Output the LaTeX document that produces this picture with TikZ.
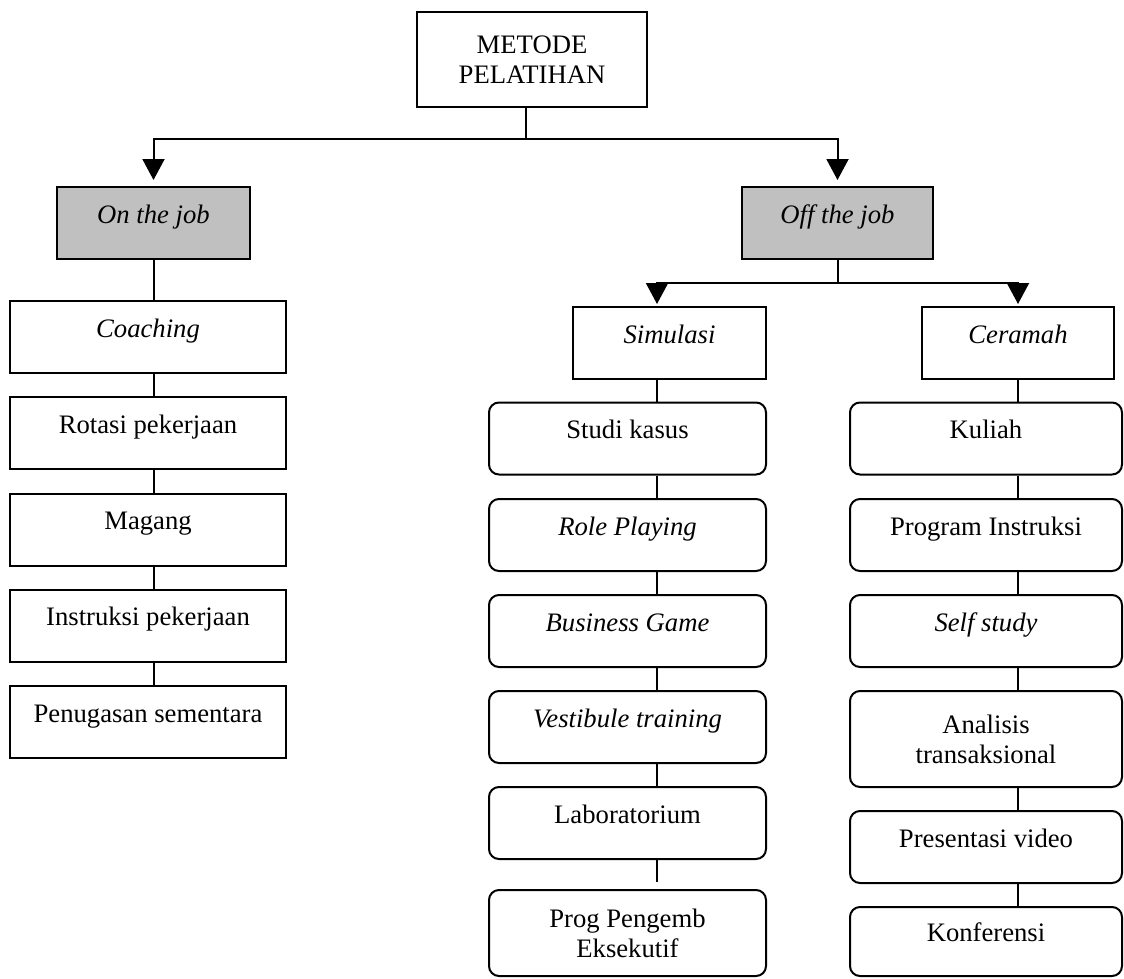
\documentclass[tikz,border=0pt]{standalone}
\usepackage{fontspec}
\setmainfont{Liberation Serif}
\usetikzlibrary{arrows.meta}
\definecolor{boxgray}{RGB}{192,192,192}
\begin{document}
\begin{tikzpicture}[x=0.75pt,y=-0.75pt,line width=1.5pt,
  every node/.style={font=\fontsize{20}{22.5}\selectfont},
  box/.style={draw,rectangle,inner sep=0pt,text height=14pt,text depth=14pt},
  bigbox/.style={draw,rectangle,inner sep=0pt,align=center},
  soft/.style={rounded corners=7.5pt},
  arr/.style={-{Triangle[width=16.5pt,length=15.75pt]}}]
\useasboundingbox (0,0) rectangle (1124,978);
\node[bigbox,minimum width=172.5pt,minimum height=71.25pt] (metode) at (532,59.5) {METODE\\PELATIHAN};
\node[box,fill=boxgray,minimum width=144.75pt,minimum height=54pt] (onjob) at (153.5,223) {\itshape On the job};
\node[box,fill=boxgray,minimum width=143.25pt,minimum height=54pt] (offjob) at (837.5,223) {\itshape Off the job};
\foreach \n/\y/\t in {coach/337/\textit{Coaching},rotasi/433/Rotasi pekerjaan,magang/529.5/Magang,
    instruksi/625.5/Instruksi pekerjaan,tugas/722/Penugasan sementara}
  \node[box,minimum width=207pt,minimum height=54pt] (\n) at (148,\y) {\t};
\node[box,minimum width=144.75pt,minimum height=54pt] (simulasi) at (669.5,343) {\itshape Simulasi};
\node[box,minimum width=144pt,minimum height=54pt] (ceramah) at (1018,343) {\itshape Ceramah};
\foreach \n/\y/\t in {studi/438.5/Studi kasus,role/535/\textit{Role Playing},bisnis/631/\textit{Business Game},
    vestibule/727/\textit{Vestibule training},lab/823/Laboratorium}
  \node[box,soft,minimum width=207.75pt,minimum height=54pt] (\n) at (627.5,\y) {\t};
\node[bigbox,soft,minimum width=207.75pt,minimum height=64.5pt] (prog) at (627.5,933) {Prog Pengemb\\Eksekutif};
\foreach \n/\y/\t in {kuliah/438.5/Kuliah,program/535/Program Instruksi,self/631/\textit{Self study},
    presentasi/847/Presentasi video}
  \node[box,soft,minimum width=204pt,minimum height=54pt] (\n) at (986,\y) {\t};
\node[bigbox,soft,minimum width=204pt,minimum height=72pt] (analisis) at (986,739) {Analisis\\transaksional};
\node[box,soft,minimum width=204pt,minimum height=51.75pt] (konferensi) at (986,941.5) {Konferensi};
\coordinate (split) at (526,139);
\coordinate (split2) at (837.5,283);
\coordinate (simline) at (657,283);
\draw (split |- metode.south) -- (split);
\draw[arr,shorten >=4.5pt] (split) -| (onjob.north);
\draw[arr,shorten >=4.5pt] (split) -| (offjob.north);
\draw (offjob) -- (split2);
\draw[arr,shorten >=1.5pt] (split2) -| (simulasi.north -| simline);
\draw[arr,shorten >=1.5pt] (split2) -| (ceramah.north);
\draw (onjob) -- (onjob |- coach.north);
\foreach \a/\b in {coach/rotasi,rotasi/magang,magang/instruksi,instruksi/tugas}
  \draw (\a.south -| onjob) -- (\b.north -| onjob);
\foreach \a/\b in {simulasi/studi,studi/role,role/bisnis,bisnis/vestibule}
  \draw (\a.south -| simline) -- (\b.north -| simline);
\draw (vestibule.south -| simline) -- (lab.north -| simline);
\draw[shorten >=5.25pt] (lab.south -| simline) -- (prog.north -| simline);
\foreach \a/\b in {ceramah/kuliah,kuliah/program,program/self,self/analisis,analisis/presentasi,presentasi/konferensi}
  \draw (\a.south -| ceramah) -- (\b.north -| ceramah);
\end{tikzpicture}
\end{document}
